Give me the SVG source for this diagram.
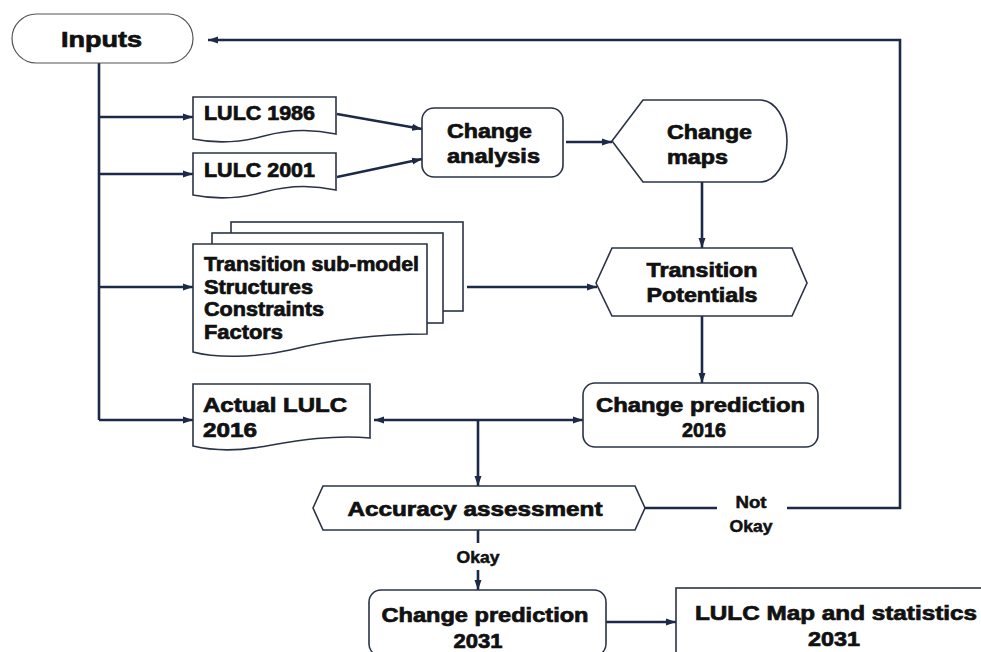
<svg xmlns="http://www.w3.org/2000/svg" width="981" height="652" viewBox="0 0 981 652">
<style>
.t{font-family:"Liberation Sans",Arial,sans-serif;font-weight:bold;font-size:20px;fill:#111;stroke:#111;stroke-width:0.7;dominant-baseline:central}
.m{text-anchor:middle}
.s{font-size:16px;stroke-width:0.5}
.node{fill:#fff;stroke:#2a3346;stroke-width:1.6}
.term{fill:#fff;stroke:#555;stroke-width:1.2}
.c{fill:none;stroke:#1c2a48;stroke-width:2.6}
</style>
<defs>
<marker id="ah" markerUnits="userSpaceOnUse" markerWidth="10" markerHeight="8" refX="10" refY="4" orient="auto-start-reverse">
<path d="M0,0.5 L10,4 L0,7.5 Z" fill="#1c2a48"/>
</marker>
</defs>
<rect width="981" height="652" fill="#fff"/>

<g id="connectors">
<path class="c" d="M99,63 V420"/>
<path class="c" d="M99,117 H193" marker-end="url(#ah)"/>
<path class="c" d="M99,174 H193" marker-end="url(#ah)"/>
<path class="c" d="M99,287 H193" marker-end="url(#ah)"/>
<path class="c" d="M99,420 H193" marker-end="url(#ah)"/>
<path class="c" d="M337,114 L422,129" marker-end="url(#ah)"/>
<path class="c" d="M337,177 L422,159" marker-end="url(#ah)"/>
<path class="c" d="M566,142 H612" marker-end="url(#ah)"/>
<path class="c" d="M702,182 V248" marker-end="url(#ah)"/>
<path class="c" d="M467,287 H597" marker-end="url(#ah)"/>
<path class="c" d="M702,316 V383" marker-end="url(#ah)"/>
<path class="c" d="M374,420 H583" marker-start="url(#ah)" marker-end="url(#ah)"/>
<path class="c" d="M478,420 V486" marker-end="url(#ah)"/>
<path class="c" d="M645,508 H717"/>
<path class="c" d="M787,508 H900 V40 H208" marker-end="url(#ah)"/>
<path class="c" d="M478,530 V543"/>
<path class="c" d="M478,570 V590" marker-end="url(#ah)"/>
<path class="c" d="M606,622 H676" marker-end="url(#ah)"/>
<text class="t m s" x="751" y="502" textLength="31" lengthAdjust="spacingAndGlyphs">Not</text>
<text class="t m s" x="751" y="526" textLength="43" lengthAdjust="spacingAndGlyphs">Okay</text>
<text class="t m s" x="478" y="557" textLength="43" lengthAdjust="spacingAndGlyphs">Okay</text>
</g>

<g id="inputs">
<rect class="term" x="12" y="14" width="181" height="49" rx="24.5"/>
<text class="t m" x="101.5" y="39" style="font-size:22px" textLength="81" lengthAdjust="spacingAndGlyphs">Inputs</text>
</g>

<g id="lulc1986">
<path class="node" d="M193,97 H336 V134 Q300,126 264,136 T193,139 Z"/>
<text class="t" x="204" y="113" textLength="111" lengthAdjust="spacingAndGlyphs">LULC 1986</text>
</g>

<g id="lulc2001">
<path class="node" d="M193,153 H336 V190 Q300,182 264,192 T193,195 Z"/>
<text class="t" x="204" y="170" textLength="111" lengthAdjust="spacingAndGlyphs">LULC 2001</text>
</g>

<g id="change-analysis">
<rect class="node" x="422" y="108" width="141" height="69" rx="12"/>
<text class="t" x="447" y="131" textLength="85" lengthAdjust="spacingAndGlyphs">Change</text>
<text class="t" x="447" y="156" textLength="93" lengthAdjust="spacingAndGlyphs">analysis</text>
</g>

<g id="change-maps">
<path class="node" d="M612,141 L643,100 H760 A27,41 0 0 1 760,182 H643 Z"/>
<text class="t" x="667" y="132" textLength="85" lengthAdjust="spacingAndGlyphs">Change</text>
<text class="t" x="667" y="157" textLength="61" lengthAdjust="spacingAndGlyphs">maps</text>
</g>

<g id="transition-submodel">
<rect class="node" x="231" y="222" width="232" height="89"/>
<rect class="node" x="212" y="233" width="231" height="90"/>
<path class="node" d="M193,244 H427 V334 C380,334 330,340 290,350 C255,358 215,358 193,352 Z"/>
<text class="t" x="204" y="264" textLength="215" lengthAdjust="spacingAndGlyphs">Transition sub-model</text>
<text class="t" x="204" y="287" textLength="109" lengthAdjust="spacingAndGlyphs">Structures</text>
<text class="t" x="204" y="309" textLength="120" lengthAdjust="spacingAndGlyphs">Constraints</text>
<text class="t" x="204" y="332" textLength="79" lengthAdjust="spacingAndGlyphs">Factors</text>
</g>

<g id="transition-potentials">
<path class="node" d="M596,283 L612,248 H792 L807,283 L792,316 H612 Z"/>
<text class="t m" x="702" y="270" textLength="111" lengthAdjust="spacingAndGlyphs">Transition</text>
<text class="t m" x="702" y="295" textLength="111" lengthAdjust="spacingAndGlyphs">Potentials</text>
</g>

<g id="change-prediction-2016">
<rect class="node" x="583" y="383" width="235" height="64" rx="12"/>
<text class="t m" x="700.5" y="405" textLength="209" lengthAdjust="spacingAndGlyphs">Change prediction</text>
<text class="t m" x="704" y="430" textLength="44" lengthAdjust="spacingAndGlyphs">2016</text>
</g>

<g id="actual-lulc-2016">
<path class="node" d="M193,384 H370 V438 C330,434 290,442 260,447 C230,452 210,450 193,446 Z"/>
<text class="t" x="203" y="405" textLength="144" lengthAdjust="spacingAndGlyphs">Actual LULC</text>
<text class="t" x="203" y="430" textLength="54" lengthAdjust="spacingAndGlyphs">2016</text>
</g>

<g id="accuracy-assessment">
<path class="node" d="M313,508 L323,486 H635 L645,508 L635,530 H323 Z"/>
<text class="t m" x="475" y="509" textLength="255" lengthAdjust="spacingAndGlyphs">Accuracy assessment</text>
</g>

<g id="change-prediction-2031">
<rect class="node" x="369" y="590" width="237" height="66" rx="12"/>
<text class="t m" x="485" y="615" textLength="207" lengthAdjust="spacingAndGlyphs">Change prediction</text>
<text class="t m" x="478" y="641" textLength="49" lengthAdjust="spacingAndGlyphs">2031</text>
</g>

<g id="lulc-map-2031">
<rect class="node" x="676" y="588" width="330" height="80"/>
<text class="t m" x="836" y="613" textLength="282" lengthAdjust="spacingAndGlyphs">LULC Map and statistics</text>
<text class="t m" x="834" y="639" textLength="52" lengthAdjust="spacingAndGlyphs">2031</text>
</g>
</svg>
